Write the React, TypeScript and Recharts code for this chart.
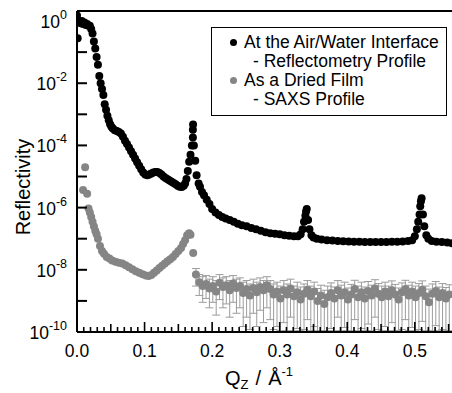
import React from "react";
import { ScatterChart, Scatter, XAxis, YAxis, ErrorBar, Legend, ReferenceLine } from "recharts";

const FONT = '"Liberation Sans", Arial, Helvetica, sans-serif';

// At the air/water interface - reflectometry profile
const reflQ = [
  0.0, 0.001, 0.003, 0.005, 0.007, 0.009, 0.011, 0.013, 0.015, 0.017, 0.019, 0.021, 0.023, 0.025,
  0.027, 0.029, 0.031, 0.033, 0.035, 0.037, 0.039, 0.041, 0.043, 0.045, 0.047, 0.049, 0.051, 0.053,
  0.056, 0.059, 0.062, 0.065, 0.068, 0.071, 0.074, 0.077, 0.08, 0.083, 0.086, 0.089, 0.092, 0.095,
  0.098, 0.101, 0.104, 0.107, 0.11, 0.113, 0.116, 0.119, 0.122, 0.125, 0.128, 0.131, 0.134, 0.137,
  0.14, 0.143, 0.146, 0.149, 0.152, 0.155, 0.158, 0.16, 0.162, 0.164, 0.166, 0.168, 0.17, 0.1715,
  0.1715, 0.1718, 0.173, 0.175, 0.177, 0.18, 0.182, 0.185, 0.188, 0.192, 0.196, 0.2, 0.205, 0.21,
  0.215, 0.22, 0.226, 0.232, 0.238, 0.244, 0.251, 0.258, 0.265, 0.272, 0.279, 0.286, 0.293, 0.3,
  0.307, 0.314, 0.321, 0.327, 0.331, 0.334, 0.336, 0.338, 0.339, 0.34, 0.342, 0.344, 0.347, 0.35,
  0.355, 0.362, 0.37, 0.378, 0.386, 0.394, 0.402, 0.41, 0.418, 0.426, 0.434, 0.442, 0.45, 0.458,
  0.466, 0.474, 0.482, 0.49, 0.496, 0.5, 0.503, 0.505, 0.507, 0.508, 0.509, 0.51, 0.512, 0.514,
  0.517, 0.52, 0.525, 0.532, 0.54, 0.548, 0.555,
];
const reflR = [
  1.5, 0.28, 1.0, 0.85, 1.0, 0.8, 0.9, 0.75, 0.8, 0.7, 0.7, 0.55, 0.4, 0.22,
  0.13, 0.07, 0.039, 0.017, 0.01, 0.0065, 0.0042, 0.0021, 0.0014, 9e-4, 6.5e-4, 4.8e-4, 4e-4, 3.5e-4,
  3.1e-4, 2.9e-4, 2.7e-4, 2.4e-4, 1.9e-4, 1.4e-4, 1.1e-4, 8.5e-5, 6.5e-5, 5e-5, 3.8e-5, 2.9e-5, 2.2e-5, 1.7e-5,
  1.35e-5, 1.15e-5, 1.1e-5, 1.15e-5, 1.25e-5, 1.35e-5, 1.4e-5, 1.4e-5, 1.3e-5, 1.15e-5, 1e-5, 9e-6, 8.2e-6, 7.5e-6,
  6.8e-6, 6.2e-6, 5.6e-6, 5e-6, 4.7e-6, 4.6e-6, 5e-6, 6e-6, 8.3e-6, 1.5e-5, 3e-5, 5e-5, 1e-4, 1.8e-4,
  3.2e-4, 4.7e-4, 1e-4, 3.2e-5, 1.1e-5, 6e-6, 4.7e-6, 3.2e-6, 2.5e-6, 1.8e-6, 1.3e-6, 9e-7, 7e-7, 5.8e-7,
  5e-7, 4.5e-7, 4e-7, 3.5e-7, 3e-7, 2.7e-7, 2.5e-7, 2.2e-7, 2e-7, 1.8e-7, 1.6e-7, 1.5e-7, 1.45e-7, 1.4e-7,
  1.3e-7, 1.25e-7, 1.2e-7, 1.2e-7, 1.4e-7, 2e-7, 3.5e-7, 5.5e-7, 7.5e-7, 9e-7, 4e-7, 2e-7, 1.3e-7, 1.1e-7,
  1e-7, 9.5e-8, 9e-8, 8.8e-8, 8.5e-8, 8.3e-8, 8.2e-8, 8e-8, 8e-8, 7.8e-8, 7.8e-8, 7.8e-8, 7.8e-8, 7.8e-8,
  8e-8, 8e-8, 8.2e-8, 8.5e-8, 9e-8, 1.2e-7, 2e-7, 3.5e-7, 6e-7, 1.1e-6, 1.6e-6, 2e-6, 6e-7, 2.5e-7,
  1.3e-7, 1e-7, 8.5e-8, 8e-8, 7.8e-8, 7.5e-8, 7.2e-8,
];

// as a dried film - SAXS profile (low-q part)
const saxsQ = [
  0.009, 0.012, 0.015, 0.017, 0.019, 0.021, 0.023, 0.025, 0.027, 0.029, 0.031, 0.034, 0.037, 0.04,
  0.044, 0.048, 0.052, 0.057, 0.062, 0.067, 0.072, 0.077, 0.082, 0.087, 0.092, 0.097, 0.102, 0.106,
  0.11, 0.114, 0.118, 0.122, 0.126, 0.13, 0.134, 0.138, 0.142, 0.146, 0.15, 0.154, 0.157, 0.16,
  0.163, 0.166, 0.168, 0.172,
];
const saxsR = [
  3.7e-6, 2e-5, 2.8e-6, 9.3e-7, 7e-7, 5e-7, 3.5e-7, 2.5e-7, 1.8e-7, 1.4e-7, 1e-7, 5.8e-8, 4e-8, 3.3e-8,
  2.6e-8, 2.3e-8, 2e-8, 1.8e-8, 1.7e-8, 1.6e-8, 1.4e-8, 1.2e-8, 1.05e-8, 9e-9, 8e-9, 7.2e-9, 6.6e-9, 6.3e-9,
  6.8e-9, 8e-9, 9.5e-9, 1.15e-8, 1.35e-8, 1.6e-8, 1.9e-8, 2.2e-8, 2.6e-8, 3.2e-8, 4e-8, 5e-8, 6.8e-8, 9e-8,
  1.3e-7, 1.5e-7, 1.35e-7, 3.5e-8,
];

// SAXS high-q part with error bars
const saxsNoiseQ = [
  0.176, 0.181, 0.186, 0.191, 0.196, 0.201, 0.206, 0.211, 0.216, 0.221, 0.226, 0.231, 0.236, 0.241,
  0.246, 0.251, 0.256, 0.261, 0.266, 0.271, 0.276, 0.281, 0.286, 0.291, 0.296, 0.301, 0.306, 0.311,
  0.316, 0.321, 0.326, 0.331, 0.336, 0.341, 0.346, 0.351, 0.356, 0.361, 0.366, 0.371, 0.376, 0.381,
  0.386, 0.391, 0.396, 0.401, 0.406, 0.411, 0.416, 0.421, 0.426, 0.431, 0.436, 0.441, 0.446, 0.451,
  0.456, 0.461, 0.466, 0.471, 0.476, 0.481, 0.486, 0.491, 0.496, 0.501, 0.506, 0.511, 0.516, 0.521,
  0.526, 0.531, 0.536, 0.541, 0.546, 0.551,
];
const saxsNoiseR = [
  7e-9, 4e-9, 3e-9, 3.5e-9, 2.5e-9, 3e-9, 2e-9, 3.8e-9, 2.8e-9, 3.2e-9, 2.2e-9, 3.6e-9, 2.6e-9, 3e-9,
  1.8e-9, 2.4e-9, 1.5e-9, 2.6e-9, 1.9e-9, 2.8e-9, 2.2e-9, 3.2e-9, 2.4e-9, 1.6e-9, 2e-9, 1.2e-9, 2.2e-9, 1.6e-9,
  2.5e-9, 1.4e-9, 1.9e-9, 1.1e-9, 1.7e-9, 2.3e-9, 1.4e-9, 2e-9, 1e-9, 1.5e-9, 8e-10, 1.3e-9, 1.8e-9, 1.2e-9,
  2.2e-9, 1.5e-9, 1.9e-9, 1.1e-9, 1.6e-9, 2.4e-9, 1.3e-9, 1.9e-9, 1.2e-9, 2.1e-9, 1.5e-9, 2.5e-9, 1.7e-9, 1.3e-9,
  2e-9, 1.4e-9, 2.2e-9, 1.6e-9, 1.1e-9, 1.9e-9, 2.4e-9, 1.5e-9, 2e-9, 1.3e-9, 1.8e-9, 2.3e-9, 1.4e-9, 9e-10,
  1.7e-9, 2.1e-9, 1.3e-9, 1.8e-9, 1.2e-9, 1.6e-9,
];
const saxsNoiseHi = [
  1.1e-8, 7e-9, 6e-9, 6.5e-9, 5e-9, 6e-9, 4.5e-9, 7e-9, 5.5e-9, 6e-9, 4.5e-9, 6.5e-9, 5e-9, 5.5e-9,
  4e-9, 4.5e-9, 3.5e-9, 5e-9, 4e-9, 5.5e-9, 4.5e-9, 6e-9, 4.5e-9, 3.5e-9, 4e-9, 3e-9, 4.5e-9, 3.5e-9,
  5e-9, 3e-9, 4e-9, 2.8e-9, 3.5e-9, 4.5e-9, 3e-9, 4e-9, 2.5e-9, 3.2e-9, 2.2e-9, 3e-9, 3.8e-9, 2.8e-9,
  4.5e-9, 3.2e-9, 4e-9, 2.6e-9, 3.4e-9, 4.6e-9, 3e-9, 4e-9, 2.8e-9, 4.2e-9, 3.2e-9, 4.8e-9, 3.6e-9, 3e-9,
  4e-9, 3e-9, 4.4e-9, 3.4e-9, 2.6e-9, 3.8e-9, 4.6e-9, 3.2e-9, 4e-9, 3e-9, 3.6e-9, 4.4e-9, 3e-9, 2.4e-9,
  3.5e-9, 4.2e-9, 2.8e-9, 3.6e-9, 2.7e-9, 3.3e-9,
];
const saxsNoiseLo = [
  3e-9, 1.5e-9, 9e-10, 1.2e-9, 6e-10, 9e-10, 3.5e-10, 1.1e-9, 6e-10, 8e-10, 3e-10, 9e-10, 4e-10, 6e-10,
  1.5e-10, 3e-10, 1.2e-10, 4e-10, 1.5e-10, 5e-10, 2e-10, 6e-10, 2.5e-10, 1.2e-10, 1.5e-10, 1.1e-10, 2e-10, 1.1e-10,
  3e-10, 1.1e-10, 1.3e-10, 1.1e-10, 1.2e-10, 2.5e-10, 1.1e-10, 1.5e-10, 1.1e-10, 1.1e-10, 1.1e-10, 1.1e-10, 1.3e-10, 1.1e-10,
  3e-10, 1.1e-10, 1.4e-10, 1.1e-10, 1.1e-10, 2.5e-10, 1.1e-10, 1.3e-10, 1.1e-10, 1.8e-10, 1.1e-10, 3e-10, 1.2e-10, 1.1e-10,
  1.5e-10, 1.1e-10, 2e-10, 1.1e-10, 1.1e-10, 1.2e-10, 2.5e-10, 1.1e-10, 1.4e-10, 1.1e-10, 1.2e-10, 2.2e-10, 1.1e-10, 1.1e-10,
  1.1e-10, 1.6e-10, 1.1e-10, 1.2e-10, 1.1e-10, 1.1e-10,
];

const yTicks = [1, 1e-1, 1e-2, 1e-3, 1e-4, 1e-5, 1e-6, 1e-7, 1e-8, 1e-9, 1e-10];
const yTickExp = ["0", "", "-2", "", "-4", "", "-6", "", "-8", "", "-10"];
const xTickLabels = ["0.0", "0.1", "0.2", "0.3", "0.4", "0.5"];
const xTicks = Array.from({ length: 56 }, (_, i) => i / 100);

const reflData = reflQ.map((q, i) => ({ q, r: reflR[i] }));
const saxsData = saxsQ.map((q, i) => ({ q, r: saxsR[i] }));
const saxsNoiseData = saxsNoiseQ.map((q, i) => ({
  q,
  r: saxsNoiseR[i],
  err: [saxsNoiseR[i] - saxsNoiseLo[i], saxsNoiseHi[i] - saxsNoiseR[i]],
}));

const GRAY = "#858585";

const dot = (color: string) => (props: any) =>
  <circle cx={props.cx} cy={props.cy} r={4} fill={color} />;

function XTick({ x, y, payload }: any) {
  const i = Math.round(payload.value * 100);
  const major = i % 10 === 0;
  const len = major ? 10 : i % 5 === 0 ? 8 : 5;
  return (
    <g>
      <line x1={x} x2={x} y1={y} y2={y - len} stroke="#000" strokeWidth={1.6} />
      {major && (
        <text x={x} y={y + 25} textAnchor="middle" fontSize={17.5} fontFamily={FONT} fill="#000">
          {xTickLabels[i / 10]}
        </text>
      )}
    </g>
  );
}

function YTick({ x, y, payload, index }: any) {
  const exp = yTickExp[index];
  return (
    <g>
      <line x1={x} x2={x + 10} y1={y} y2={y} stroke="#000" strokeWidth={2} />
      {exp !== "" && (
        <text x={x - 10} y={y + 7} textAnchor="end" fontSize={17.5} fontFamily={FONT} fill="#000">
          10<tspan dy={-9} fontSize={12.5}>{exp}</tspan>
        </text>
      )}
    </g>
  );
}

const YTitle = () => (
  <text x={0} y={0} transform="translate(30,187) rotate(-90)" textAnchor="middle" fontSize={20} fontFamily={FONT} fill="#000">
    Reflectivity
  </text>
);

const XTitle = () => (
  <text x={259} y={385} textAnchor="middle" fontSize={20} fontFamily={FONT} fill="#000" wordSpacing={1.5}>
    Q<tspan fontSize={13} dy={4}>Z</tspan>
    <tspan dy={-4}> / Å</tspan>
    <tspan fontSize={13} dy={-9}>-1</tspan>
  </text>
);

function LegendBox() {
  const row = { height: 19, whiteSpace: "nowrap" as const, position: "relative" as const };
  const bullet = (c: string) => (
    <span style={{ position: "absolute", left: -14, top: 6, width: 7, height: 7, borderRadius: 4, background: c }} />
  );
  return (
    <div
      style={{
        width: 236, height: 89, boxSizing: "border-box", border: "1.5px solid #000", background: "#fff",
        fontFamily: FONT, fontSize: 17.5, lineHeight: "19px", color: "#000", padding: "5px 0 0 32px",
      }}
    >
      <div style={row}>{bullet("#000")}At the Air/Water Interface</div>
      <div style={{ ...row, paddingLeft: 9 }}>- Reflectometry Profile</div>
      <div style={row}>{bullet(GRAY)}As a Dried Film</div>
      <div style={{ ...row, paddingLeft: 9 }}>- SAXS Profile</div>
    </div>
  );
}

export default function App() {
  return (
    <div style={{ position: "absolute", left: 0, top: 0, width: 452, height: 393, background: "#fff" }}>
      <ScatterChart width={452} height={393} margin={{ top: 11, right: 0, bottom: 0, left: 0 }}>
        <XAxis
          dataKey="q"
          type="number"
          domain={[0, 0.555]}
          allowDataOverflow
          ticks={xTicks}
          interval={0}
          tick={<XTick />}
          tickLine={false}
          tickSize={0}
          tickMargin={0}
          height={61}
          axisLine={{ stroke: "#000", strokeWidth: 2 }}
          label={<XTitle />}
        />
        <YAxis
          dataKey="r"
          type="number"
          scale="log"
          domain={[1e-10, 2.1]}
          allowDataOverflow
          ticks={yTicks}
          interval={0}
          tick={<YTick />}
          tickLine={false}
          tickSize={0}
          tickMargin={0}
          width={77}
          axisLine={{ stroke: "#000", strokeWidth: 2 }}
          label={<YTitle />}
        />
        <ReferenceLine y={2.1} stroke="#000" strokeWidth={2} />
        <Legend
          layout="horizontal"
          verticalAlign="middle"
          align="center"
          wrapperStyle={{ top: 27, left: 211, width: 236, height: 89 }}
          content={<LegendBox />}
        />
        <Scatter data={saxsNoiseData} fill={GRAY} shape={dot(GRAY)} isAnimationActive={false}>
          <ErrorBar dataKey="err" direction="y" width={4} stroke="#9c9c9c" strokeWidth={1} isAnimationActive={false} />
        </Scatter>
        <Scatter data={saxsData} fill={GRAY} shape={dot(GRAY)} isAnimationActive={false} />
        <Scatter data={reflData} fill="#000" shape={dot("#000")} isAnimationActive={false} />
      </ScatterChart>
    </div>
  );
}
